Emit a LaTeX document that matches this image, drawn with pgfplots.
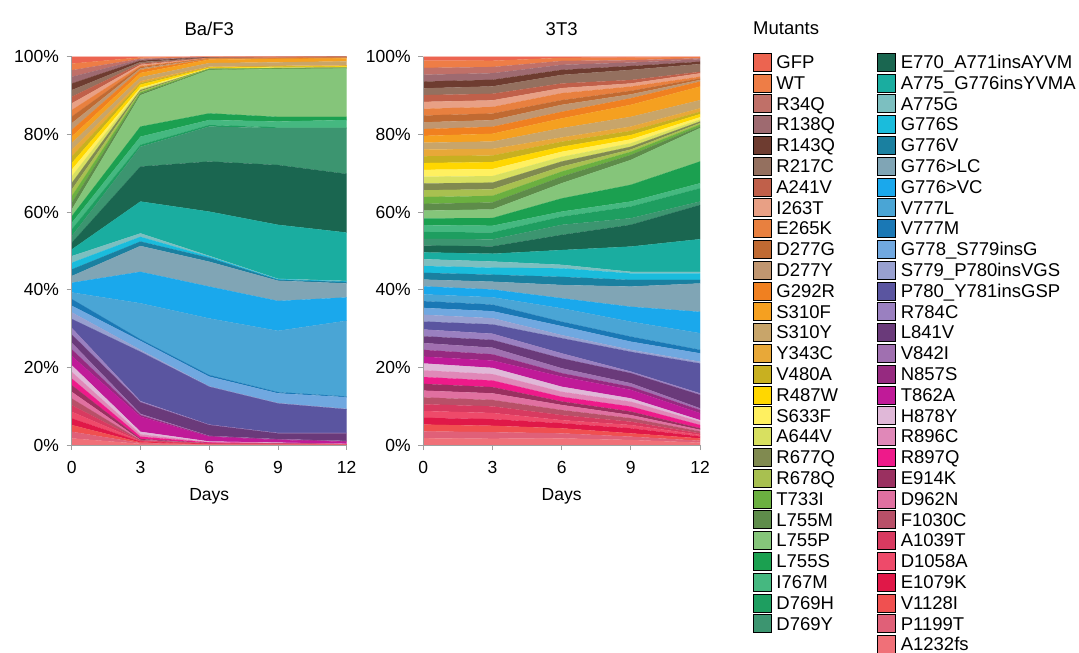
\documentclass[border=0pt]{standalone}
\usepackage{pgfplots}
\pgfplotsset{compat=1.18}
\usepackage{fontspec}
\setmainfont{Liberation Sans}

% colours, bottom of the stack (c01) to top (c57)
\definecolor{c01}{RGB}{240,112,120}% A1232fs
\definecolor{c02}{RGB}{224,96,120}% P1199T
\definecolor{c03}{RGB}{240,80,80}% V1128I
\definecolor{c04}{RGB}{224,24,72}% E1079K
\definecolor{c05}{RGB}{238,74,106}% D1058A
\definecolor{c06}{RGB}{216,58,96}% A1039T
\definecolor{c07}{RGB}{184,80,104}% F1030C
\definecolor{c08}{RGB}{224,112,160}% D962N
\definecolor{c09}{RGB}{154,48,96}% E914K
\definecolor{c10}{RGB}{238,26,138}% R897Q
\definecolor{c11}{RGB}{224,136,184}% R896C
\definecolor{c12}{RGB}{224,184,216}% H878Y
\definecolor{c13}{RGB}{192,26,152}% T862A
\definecolor{c14}{RGB}{150,42,128}% N857S
\definecolor{c15}{RGB}{160,112,176}% V842I
\definecolor{c16}{RGB}{106,58,122}% L841V
\definecolor{c17}{RGB}{154,128,192}% R784C
\definecolor{c18}{RGB}{90,85,160}% P780_Y781insGSP
\definecolor{c19}{RGB}{152,160,208}% S779_P780insVGS
\definecolor{c20}{RGB}{112,168,224}% G778_S779insG
\definecolor{c21}{RGB}{26,120,181}% V777M
\definecolor{c22}{RGB}{74,165,213}% V777L
\definecolor{c23}{RGB}{26,168,236}% G776>VC
\definecolor{c24}{RGB}{128,165,181}% G776>LC
\definecolor{c25}{RGB}{26,128,160}% G776V
\definecolor{c26}{RGB}{26,188,220}% G776S
\definecolor{c27}{RGB}{124,191,192}% A775G
\definecolor{c28}{RGB}{26,173,160}% A775_G776insYVMA
\definecolor{c29}{RGB}{26,102,80}% E770_A771insAYVM
\definecolor{c30}{RGB}{60,149,112}% D769Y
\definecolor{c31}{RGB}{30,158,96}% D769H
\definecolor{c32}{RGB}{69,184,128}% I767M
\definecolor{c33}{RGB}{27,160,80}% L755S
\definecolor{c34}{RGB}{133,197,122}% L755P
\definecolor{c35}{RGB}{94,140,74}% L755M
\definecolor{c36}{RGB}{107,176,64}% T733I
\definecolor{c37}{RGB}{168,192,80}% R678Q
\definecolor{c38}{RGB}{128,138,80}% R677Q
\definecolor{c39}{RGB}{216,224,96}% A644V
\definecolor{c40}{RGB}{255,240,96}% S633F
\definecolor{c41}{RGB}{255,215,0}% R487W
\definecolor{c42}{RGB}{200,176,32}% V480A
\definecolor{c43}{RGB}{232,168,56}% Y343C
\definecolor{c44}{RGB}{200,165,106}% S310Y
\definecolor{c45}{RGB}{245,160,32}% S310F
\definecolor{c46}{RGB}{240,128,32}% G292R
\definecolor{c47}{RGB}{192,150,112}% D277Y
\definecolor{c48}{RGB}{192,106,50}% D277G
\definecolor{c49}{RGB}{232,128,63}% E265K
\definecolor{c50}{RGB}{232,160,133}% I263T
\definecolor{c51}{RGB}{192,96,74}% A241V
\definecolor{c52}{RGB}{148,112,95}% R217C
\definecolor{c53}{RGB}{110,60,48}% R143Q
\definecolor{c54}{RGB}{158,106,112}% R138Q
\definecolor{c55}{RGB}{192,112,104}% R34Q
\definecolor{c56}{RGB}{238,125,70}% WT
\definecolor{c57}{RGB}{236,100,80}% GFP

\pgfplotsset{
  ar/.style={fill=#1, draw=#1, line width=0.1pt, forget plot},
  panel/.style={
    scale only axis, height=388.3pt, anchor=south west,
    xmin=0, xmax=12, ymin=0, ymax=100,
    xtick={0,3,6,9,12}, ytick={0,20,...,100},
    stack plots=y, axis on top,
    axis lines*=left,
    axis line style={draw=gray!75, line width=0.8pt, -},
    tick style={draw=gray!75, line width=0.8pt},
    tick align=outside, major tick length=5pt,
    /pgf/number format/assume math mode=true,
    tick label style={font=\fontsize{17.5}{20}\selectfont, inner sep=0pt},
    yticklabel={\pgfmathprintnumber{\tick}\%},
    yticklabel style={anchor=east, xshift=-7.5pt},
    xticklabel style={anchor=base, yshift=-23.8pt},
    xlabel={Days},
    xlabel style={at={(axis description cs:0.5,0)}, anchor=base, yshift=-55.5pt,
      font=\fontsize{17.5}{20}\selectfont, inner sep=0pt},
    title style={at={(axis description cs:0.5,1)}, anchor=base, yshift=15pt,
      font=\fontsize{18.5}{22}\selectfont, inner sep=0pt},
  },
}

\begin{document}
\begin{tikzpicture}
\useasboundingbox (0,0) rectangle (1079pt,653pt);

% ---------------- Ba/F3 ----------------
\begin{axis}[panel, at={(71.7pt,208pt)}, width=275pt, title={Ba/F3}]
\addplot[ar=c01] coordinates {(0,1.71)(3,0.3)(6,0.1)(9,0.1)(12,0.06)} \closedcycle;
\addplot[ar=c02] coordinates {(0,1.71)(3,0.2)(6,0.05)(9,0.04)(12,0.02)} \closedcycle;
\addplot[ar=c03] coordinates {(0,1.71)(3,0.15)(6,0.05)(9,0.04)(12,0.02)} \closedcycle;
\addplot[ar=c04] coordinates {(0,1.71)(3,0.2)(6,0.05)(9,0.04)(12,0.02)} \closedcycle;
\addplot[ar=c05] coordinates {(0,1.71)(3,0.15)(6,0.05)(9,0.04)(12,0.02)} \closedcycle;
\addplot[ar=c06] coordinates {(0,1.71)(3,0.1)(6,0.05)(9,0.04)(12,0.02)} \closedcycle;
\addplot[ar=c07] coordinates {(0,1.71)(3,0.1)(6,0.05)(9,0.04)(12,0.02)} \closedcycle;
\addplot[ar=c08] coordinates {(0,1.71)(3,0.1)(6,0.05)(9,0.04)(12,0.02)} \closedcycle;
\addplot[ar=c09] coordinates {(0,1.71)(3,0.25)(6,0.05)(9,0.04)(12,0.02)} \closedcycle;
\addplot[ar=c10] coordinates {(0,1.71)(3,0.6)(6,0.15)(9,0.04)(12,0.02)} \closedcycle;
\addplot[ar=c11] coordinates {(0,1.71)(3,0.6)(6,0.1)(9,0.04)(12,0.02)} \closedcycle;
\addplot[ar=c12] coordinates {(0,1.71)(3,0.65)(6,0.15)(9,0.1)(12,0.04)} \closedcycle;
\addplot[ar=c13] coordinates {(0,2.4)(3,3.9)(6,1.25)(9,0.7)(12,0.55)} \closedcycle;
\addplot[ar=c14] coordinates {(0,1.71)(3,0.4)(6,0.1)(9,0.1)(12,0.1)} \closedcycle;
\addplot[ar=c15] coordinates {(0,1.71)(3,0.3)(6,0.1)(9,0.1)(12,0.1)} \closedcycle;
\addplot[ar=c16] coordinates {(0,2.1)(3,3.0)(6,2.8)(9,1.5)(12,1.95)} \closedcycle;
\addplot[ar=c17] coordinates {(0,1.71)(3,0.3)(6,0.1)(9,0.1)(12,0.1)} \closedcycle;
\addplot[ar=c18] coordinates {(0,2.3)(3,12.7)(6,9.75)(9,7.6)(12,6.1)} \closedcycle;
\addplot[ar=c19] coordinates {(0,1.71)(3,0.5)(6,0.1)(9,0.1)(12,0.1)} \closedcycle;
\addplot[ar=c20] coordinates {(0,1.71)(3,2.3)(6,2.5)(9,2.5)(12,3.0)} \closedcycle;
\addplot[ar=c21] coordinates {(0,1.71)(3,0.4)(6,0.4)(9,0.3)(12,0.2)} \closedcycle;
\addplot[ar=c22] coordinates {(0,1.71)(3,9.3)(6,14.6)(9,15.8)(12,19.5)} \closedcycle;
\addplot[ar=c23] coordinates {(0,2.5)(3,8.1)(6,8.2)(9,7.7)(12,6.0)} \closedcycle;
\addplot[ar=c24] coordinates {(0,1.71)(3,6.65)(6,6.4)(9,5.2)(12,3.6)} \closedcycle;
\addplot[ar=c25] coordinates {(0,1.71)(3,1.15)(6,1.0)(9,0.25)(12,0.4)} \closedcycle;
\addplot[ar=c26] coordinates {(0,1.71)(3,1.2)(6,0.3)(9,0.15)(12,0.15)} \closedcycle;
\addplot[ar=c27] coordinates {(0,1.71)(3,0.9)(6,0.2)(9,0.1)(12,0.1)} \closedcycle;
\addplot[ar=c28] coordinates {(0,1.71)(3,8.2)(6,11.4)(9,13.9)(12,12.45)} \closedcycle;
\addplot[ar=c29] coordinates {(0,1.71)(3,9.0)(6,12.9)(9,15.4)(12,15.1)} \closedcycle;
\addplot[ar=c30] coordinates {(0,1.71)(3,5.1)(6,9.0)(9,9.5)(12,11.8)} \closedcycle;
\addplot[ar=c31] coordinates {(0,1.71)(3,0.5)(6,0.4)(9,0.2)(12,0.2)} \closedcycle;
\addplot[ar=c32] coordinates {(0,1.71)(3,2.1)(6,1.3)(9,1.5)(12,1.9)} \closedcycle;
\addplot[ar=c33] coordinates {(0,1.71)(3,2.6)(6,1.7)(9,1.2)(12,0.8)} \closedcycle;
\addplot[ar=c34] coordinates {(0,1.71)(3,8.1)(6,11.2)(9,12.3)(12,12.5)} \closedcycle;
\addplot[ar=c35] coordinates {(0,1.71)(3,0.4)(6,0.1)(9,0.1)(12,0.05)} \closedcycle;
\addplot[ar=c36] coordinates {(0,1.71)(3,0.3)(6,0.1)(9,0.1)(12,0.05)} \closedcycle;
\addplot[ar=c37] coordinates {(0,1.71)(3,0.3)(6,0.05)(9,0.05)(12,0.05)} \closedcycle;
\addplot[ar=c38] coordinates {(0,1.71)(3,0.3)(6,0.05)(9,0.05)(12,0.05)} \closedcycle;
\addplot[ar=c39] coordinates {(0,1.71)(3,0.3)(6,0.05)(9,0.05)(12,0.05)} \closedcycle;
\addplot[ar=c40] coordinates {(0,1.71)(3,0.3)(6,0.05)(9,0.05)(12,0.1)} \closedcycle;
\addplot[ar=c41] coordinates {(0,1.71)(3,0.8)(6,0.15)(9,0.15)(12,0.15)} \closedcycle;
\addplot[ar=c42] coordinates {(0,1.71)(3,0.4)(6,0.1)(9,0.1)(12,0.1)} \closedcycle;
\addplot[ar=c43] coordinates {(0,1.71)(3,0.5)(6,0.2)(9,0.2)(12,0.2)} \closedcycle;
\addplot[ar=c44] coordinates {(0,1.71)(3,1.0)(6,0.9)(9,0.9)(12,1.0)} \closedcycle;
\addplot[ar=c45] coordinates {(0,1.71)(3,1.1)(6,0.9)(9,0.85)(12,0.76)} \closedcycle;
\addplot[ar=c46] coordinates {(0,1.71)(3,0.8)(6,0.2)(9,0.15)(12,0.15)} \closedcycle;
\addplot[ar=c47] coordinates {(0,1.71)(3,0.4)(6,0.05)(9,0.05)(12,0.03)} \closedcycle;
\addplot[ar=c48] coordinates {(0,1.71)(3,0.3)(6,0.05)(9,0.05)(12,0.03)} \closedcycle;
\addplot[ar=c49] coordinates {(0,1.71)(3,0.3)(6,0.05)(9,0.05)(12,0.03)} \closedcycle;
\addplot[ar=c50] coordinates {(0,1.71)(3,0.3)(6,0.05)(9,0.05)(12,0.03)} \closedcycle;
\addplot[ar=c51] coordinates {(0,1.71)(3,0.3)(6,0.05)(9,0.05)(12,0.03)} \closedcycle;
\addplot[ar=c52] coordinates {(0,1.71)(3,0.4)(6,0.05)(9,0.05)(12,0.03)} \closedcycle;
\addplot[ar=c53] coordinates {(0,1.71)(3,0.4)(6,0.05)(9,0.03)(12,0.03)} \closedcycle;
\addplot[ar=c54] coordinates {(0,1.71)(3,0.3)(6,0.05)(9,0.03)(12,0.02)} \closedcycle;
\addplot[ar=c55] coordinates {(0,1.71)(3,0.2)(6,0.05)(9,0.03)(12,0.02)} \closedcycle;
\addplot[ar=c56] coordinates {(0,1.71)(3,0.3)(6,0.05)(9,0.03)(12,0.02)} \closedcycle;
\addplot[ar=c57] coordinates {(0,1.78)(3,0.2)(6,0.05)(9,0.03)(12,0.02)} \closedcycle;
\end{axis}

% ---------------- 3T3 ----------------
\begin{axis}[panel, at={(423.3pt,208pt)}, width=276.7pt, title={3T3},
  legend columns=29, transpose legend,
  legend cell align=left,
  legend image code/.code={\fill[#1] (0pt,-9pt) rectangle (18pt,9pt);},
  legend style={at={(1.1915,1.0103)}, anchor=north west, draw=none, fill=none,
    inner sep=0pt, outer sep=0pt, column sep=5pt, row sep=2.4pt,
    font=\fontsize{18.5}{20}\selectfont,
    nodes={inner sep=0pt, text height=13.2pt, text depth=0pt, text width=96pt, align=left}},
]
\addplot[ar=c01] coordinates {(0,1.75)(3,1.6)(6,1.7)(9,1.3)(12,0.6)} \closedcycle;
\addplot[ar=c02] coordinates {(0,1.75)(3,1.7)(6,1.3)(9,0.85)(12,0.5)} \closedcycle;
\addplot[ar=c03] coordinates {(0,1.75)(3,1.65)(6,1.3)(9,0.85)(12,0.6)} \closedcycle;
\addplot[ar=c04] coordinates {(0,1.75)(3,1.7)(6,1.3)(9,1.3)(12,0.5)} \closedcycle;
\addplot[ar=c05] coordinates {(0,1.75)(3,1.6)(6,0.8)(9,0.85)(12,0.4)} \closedcycle;
\addplot[ar=c06] coordinates {(0,1.75)(3,1.7)(6,1.3)(9,0.85)(12,0.4)} \closedcycle;
\addplot[ar=c07] coordinates {(0,1.75)(3,1.65)(6,1.3)(9,0.9)(12,0.5)} \closedcycle;
\addplot[ar=c08] coordinates {(0,1.75)(3,1.7)(6,1.3)(9,0.8)(12,0.4)} \closedcycle;
\addplot[ar=c09] coordinates {(0,1.75)(3,1.6)(6,0.9)(9,0.9)(12,0.4)} \closedcycle;
\addplot[ar=c10] coordinates {(0,1.75)(3,1.7)(6,1.2)(9,1.3)(12,0.85)} \closedcycle;
\addplot[ar=c11] coordinates {(0,1.75)(3,1.65)(6,1.3)(9,1.25)(12,0.85)} \closedcycle;
\addplot[ar=c12] coordinates {(0,1.75)(3,1.6)(6,1.3)(9,0.85)(12,0.4)} \closedcycle;
\addplot[ar=c13] coordinates {(0,1.75)(3,1.9)(6,2.6)(9,2.2)(12,1.8)} \closedcycle;
\addplot[ar=c14] coordinates {(0,1.75)(3,1.6)(6,0.9)(9,0.8)(12,0.8)} \closedcycle;
\addplot[ar=c15] coordinates {(0,1.75)(3,1.7)(6,1.25)(9,0.9)(12,0.45)} \closedcycle;
\addplot[ar=c16] coordinates {(0,1.75)(3,2.0)(6,2.55)(9,2.6)(12,3.45)} \closedcycle;
\addplot[ar=c17] coordinates {(0,1.75)(3,1.6)(6,1.3)(9,0.4)(12,0.4)} \closedcycle;
\addplot[ar=c18] coordinates {(0,2.05)(3,2.4)(6,3.9)(9,5.1)(12,7.7)} \closedcycle;
\addplot[ar=c19] coordinates {(0,1.75)(3,1.6)(6,0.8)(9,0.5)(12,0.45)} \closedcycle;
\addplot[ar=c20] coordinates {(0,1.75)(3,1.8)(6,2.3)(9,2.1)(12,2.15)} \closedcycle;
\addplot[ar=c21] coordinates {(0,1.75)(3,1.7)(6,1.15)(9,1.3)(12,0.9)} \closedcycle;
\addplot[ar=c22] coordinates {(0,1.75)(3,1.9)(6,3.45)(9,3.85)(12,4.3)} \closedcycle;
\addplot[ar=c23] coordinates {(0,2.05)(3,2.0)(6,2.6)(9,3.85)(12,5.5)} \closedcycle;
\addplot[ar=c24] coordinates {(0,1.75)(3,2.0)(6,3.4)(9,5.2)(12,7.3)} \closedcycle;
\addplot[ar=c25] coordinates {(0,1.75)(3,1.8)(6,2.1)(9,1.7)(12,0.9)} \closedcycle;
\addplot[ar=c26] coordinates {(0,1.75)(3,1.8)(6,2.2)(9,1.7)(12,1.7)} \closedcycle;
\addplot[ar=c27] coordinates {(0,1.75)(3,1.6)(6,0.9)(9,0.4)(12,0.4)} \closedcycle;
\addplot[ar=c28] coordinates {(0,1.75)(3,2.0)(6,3.8)(9,6.5)(12,8.4)} \closedcycle;
\addplot[ar=c29] coordinates {(0,1.75)(3,1.9)(6,3.9)(9,5.6)(12,8.8)} \closedcycle;
\addplot[ar=c30] coordinates {(0,1.75)(3,1.8)(6,2.6)(9,1.7)(12,0.9)} \closedcycle;
\addplot[ar=c31] coordinates {(0,1.75)(3,1.8)(6,2.1)(9,3.0)(12,3.4)} \closedcycle;
\addplot[ar=c32] coordinates {(0,1.75)(3,1.7)(6,1.3)(9,1.3)(12,1.3)} \closedcycle;
\addplot[ar=c33] coordinates {(0,1.75)(3,2.0)(6,3.4)(9,4.3)(12,5.6)} \closedcycle;
\addplot[ar=c34] coordinates {(0,2.0)(3,2.2)(6,3.9)(9,6.4)(12,8.6)} \closedcycle;
\addplot[ar=c35] coordinates {(0,1.75)(3,1.8)(6,1.7)(9,1.3)(12,0.4)} \closedcycle;
\addplot[ar=c36] coordinates {(0,1.75)(3,1.7)(6,1.3)(9,0.8)(12,0.5)} \closedcycle;
\addplot[ar=c37] coordinates {(0,1.75)(3,1.7)(6,1.3)(9,0.6)(12,0.4)} \closedcycle;
\addplot[ar=c38] coordinates {(0,1.75)(3,1.7)(6,1.3)(9,0.7)(12,0.4)} \closedcycle;
\addplot[ar=c39] coordinates {(0,1.75)(3,1.7)(6,1.2)(9,0.9)(12,0.5)} \closedcycle;
\addplot[ar=c40] coordinates {(0,1.75)(3,1.8)(6,1.3)(9,1.0)(12,0.6)} \closedcycle;
\addplot[ar=c41] coordinates {(0,1.75)(3,1.8)(6,1.3)(9,1.1)(12,0.8)} \closedcycle;
\addplot[ar=c42] coordinates {(0,1.75)(3,1.7)(6,1.3)(9,1.1)(12,0.6)} \closedcycle;
\addplot[ar=c43] coordinates {(0,1.75)(3,1.7)(6,1.1)(9,1.1)(12,0.9)} \closedcycle;
\addplot[ar=c44] coordinates {(0,1.75)(3,1.9)(6,2.4)(9,2.5)(12,2.1)} \closedcycle;
\addplot[ar=c45] coordinates {(0,1.75)(3,2.0)(6,2.5)(9,3.1)(12,3.5)} \closedcycle;
\addplot[ar=c46] coordinates {(0,1.75)(3,1.8)(6,1.7)(9,1.7)(12,1.3)} \closedcycle;
\addplot[ar=c47] coordinates {(0,1.75)(3,1.7)(6,1.8)(9,1.0)(12,0.4)} \closedcycle;
\addplot[ar=c48] coordinates {(0,1.75)(3,1.7)(6,1.2)(9,0.9)(12,0.4)} \closedcycle;
\addplot[ar=c49] coordinates {(0,1.75)(3,1.7)(6,1.8)(9,1.1)(12,0.45)} \closedcycle;
\addplot[ar=c50] coordinates {(0,1.75)(3,1.7)(6,1.3)(9,0.8)(12,0.85)} \closedcycle;
\addplot[ar=c51] coordinates {(0,1.75)(3,1.7)(6,1.2)(9,0.9)(12,0.4)} \closedcycle;
\addplot[ar=c52] coordinates {(0,1.75)(3,1.9)(6,2.2)(9,2.6)(12,2.0)} \closedcycle;
\addplot[ar=c53] coordinates {(0,1.75)(3,1.7)(6,1.3)(9,1.0)(12,0.6)} \closedcycle;
\addplot[ar=c54] coordinates {(0,1.75)(3,1.7)(6,1.3)(9,0.9)(12,0.6)} \closedcycle;
\addplot[ar=c55] coordinates {(0,1.75)(3,1.6)(6,1.0)(9,0.6)(12,0.3)} \closedcycle;
\addplot[ar=c56] coordinates {(0,1.9)(3,1.6)(6,0.8)(9,0.7)(12,0.3)} \closedcycle;
\addplot[ar=c57] coordinates {(0,1.0)(3,1.05)(6,0.3)(9,0.2)(12,0.1)} \closedcycle;

% legend, in the order of the reference
\addlegendimage{fill=c57}\addlegendentry{GFP}
\addlegendimage{fill=c56}\addlegendentry{WT}
\addlegendimage{fill=c55}\addlegendentry{R34Q}
\addlegendimage{fill=c54}\addlegendentry{R138Q}
\addlegendimage{fill=c53}\addlegendentry{R143Q}
\addlegendimage{fill=c52}\addlegendentry{R217C}
\addlegendimage{fill=c51}\addlegendentry{A241V}
\addlegendimage{fill=c50}\addlegendentry{I263T}
\addlegendimage{fill=c49}\addlegendentry{E265K}
\addlegendimage{fill=c48}\addlegendentry{D277G}
\addlegendimage{fill=c47}\addlegendentry{D277Y}
\addlegendimage{fill=c46}\addlegendentry{G292R}
\addlegendimage{fill=c45}\addlegendentry{S310F}
\addlegendimage{fill=c44}\addlegendentry{S310Y}
\addlegendimage{fill=c43}\addlegendentry{Y343C}
\addlegendimage{fill=c42}\addlegendentry{V480A}
\addlegendimage{fill=c41}\addlegendentry{R487W}
\addlegendimage{fill=c40}\addlegendentry{S633F}
\addlegendimage{fill=c39}\addlegendentry{A644V}
\addlegendimage{fill=c38}\addlegendentry{R677Q}
\addlegendimage{fill=c37}\addlegendentry{R678Q}
\addlegendimage{fill=c36}\addlegendentry{T733I}
\addlegendimage{fill=c35}\addlegendentry{L755M}
\addlegendimage{fill=c34}\addlegendentry{L755P}
\addlegendimage{fill=c33}\addlegendentry{L755S}
\addlegendimage{fill=c32}\addlegendentry{I767M}
\addlegendimage{fill=c31}\addlegendentry{D769H}
\addlegendimage{fill=c30}\addlegendentry{D769Y}
\addlegendimage{empty legend}\addlegendentry{}
\addlegendimage{fill=c29}\addlegendentry{E770\_A771insAYVM}
\addlegendimage{fill=c28}\addlegendentry{A775\_G776insYVMA}
\addlegendimage{fill=c27}\addlegendentry{A775G}
\addlegendimage{fill=c26}\addlegendentry{G776S}
\addlegendimage{fill=c25}\addlegendentry{G776V}
\addlegendimage{fill=c24}\addlegendentry{G776>LC}
\addlegendimage{fill=c23}\addlegendentry{G776>VC}
\addlegendimage{fill=c22}\addlegendentry{V777L}
\addlegendimage{fill=c21}\addlegendentry{V777M}
\addlegendimage{fill=c20}\addlegendentry{G778\_S779insG}
\addlegendimage{fill=c19}\addlegendentry{S779\_P780insVGS}
\addlegendimage{fill=c18}\addlegendentry{P780\_Y781insGSP}
\addlegendimage{fill=c17}\addlegendentry{R784C}
\addlegendimage{fill=c16}\addlegendentry{L841V}
\addlegendimage{fill=c15}\addlegendentry{V842I}
\addlegendimage{fill=c14}\addlegendentry{N857S}
\addlegendimage{fill=c13}\addlegendentry{T862A}
\addlegendimage{fill=c12}\addlegendentry{H878Y}
\addlegendimage{fill=c11}\addlegendentry{R896C}
\addlegendimage{fill=c10}\addlegendentry{R897Q}
\addlegendimage{fill=c09}\addlegendentry{E914K}
\addlegendimage{fill=c08}\addlegendentry{D962N}
\addlegendimage{fill=c07}\addlegendentry{F1030C}
\addlegendimage{fill=c06}\addlegendentry{A1039T}
\addlegendimage{fill=c05}\addlegendentry{D1058A}
\addlegendimage{fill=c04}\addlegendentry{E1079K}
\addlegendimage{fill=c03}\addlegendentry{V1128I}
\addlegendimage{fill=c02}\addlegendentry{P1199T}
\addlegendimage{fill=c01}\addlegendentry{A1232fs}
\end{axis}

\node[anchor=base west, inner sep=0pt, font=\fontsize{18.5}{22}\selectfont] at (753pt,618pt) {Mutants};
\end{tikzpicture}
\end{document}
